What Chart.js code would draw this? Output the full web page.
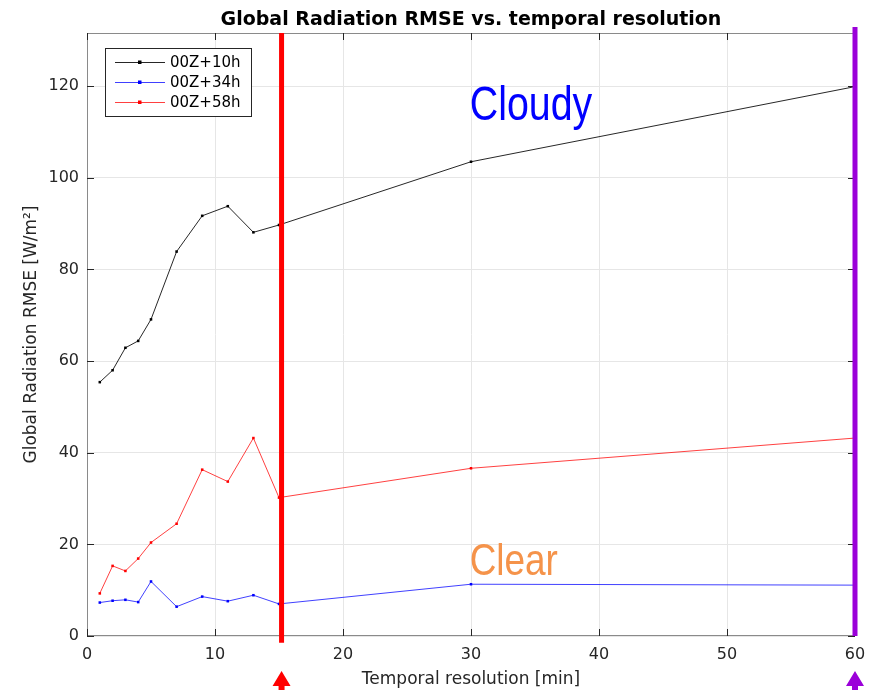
<!DOCTYPE html>
<html>
<head>
<meta charset="utf-8">
<script src="https://cdn.jsdelivr.net/npm/chart.js@4"></script>
<style>
  html, body { margin: 0; padding: 0; background: #fff; }
  #wrap { width: 877px; height: 690px; }
</style>
</head>
<body>
<div id="wrap"><canvas id="grafikRmse" width="877" height="690"></canvas></div>
<script>
const resolusi = [1, 2, 3, 4, 5, 7, 9, 11, 13, 15, 30, 60];
const rmse10h = [55.4, 58.0, 62.9, 64.4, 69.1, 83.9, 91.7, 93.8, 88.1, 89.7, 103.5, 119.9];
const rmse34h = [7.3, 7.7, 7.9, 7.4, 11.9, 6.4, 8.6, 7.6, 8.9, 7.0, 11.3, 11.1];
const rmse58h = [9.3, 15.3, 14.2, 16.9, 20.4, 24.5, 36.3, 33.7, 43.2, 30.2, 36.6, 43.2];
const seriesLabels = ['00Z+10h', '00Z+34h', '00Z+58h'];
const markerX = [15.2, 60];
const xTicks = [0, 10, 20, 30, 40, 50, 60];
const yTicks = [0, 20, 40, 60, 80, 100, 120];

const ctx = document.getElementById('grafikRmse').getContext('2d');

function toPoints(ys) {
    return resolusi.map((x, i) => ({ x: x, y: ys[i] }));
}

const warnaSeri = ['#000000', '#0000ff', '#ff0000'];
const seriData = [rmse10h, rmse34h, rmse58h];

const datasets = seriData.map((ys, i) => ({
    label: seriesLabels[i],
    data: toPoints(ys),
    borderColor: i === 0 ? 'rgba(0,0,0,0.85)' : (i === 1 ? 'rgba(0,0,255,0.75)' : 'rgba(255,0,0,0.75)'),
    backgroundColor: warnaSeri[i],
    borderWidth: 1,
    pointStyle: 'rect',
    pointRadius: 1.8,
    pointBorderWidth: 0,
    tension: 0,
    order: 2
}));

// vertical marker lines
datasets.push({
    data: [{ x: markerX[0], y: -1.5 }, { x: markerX[0], y: 131.6 }],
    borderColor: '#ff0000', borderWidth: 5, pointRadius: 0, order: 1, clip: false
});
datasets.push({
    data: [{ x: markerX[1], y: 0 }, { x: markerX[1], y: 132.9 }],
    borderColor: '#9b00d9', borderWidth: 5, pointRadius: 0, order: 1, clip: false
});

// box + inward ticks (under the data)
const kotak = {
    id: 'kotak',
    beforeDatasetsDraw(chart) {
        const c = chart.ctx;
        const a = chart.chartArea;
        const sx = chart.scales.x, sy = chart.scales.y;
        c.save();
        c.strokeStyle = '#8a8a8a';
        c.lineWidth = 1;
        c.strokeRect(a.left + 0.5, a.top + 0.5, a.right - a.left - 1, a.bottom - a.top - 1);
        c.strokeStyle = '#262626';
        c.beginPath();
        xTicks.forEach(v => {
            const px = Math.round(sx.getPixelForValue(v)) + 0.5;
            c.moveTo(px, a.bottom); c.lineTo(px, a.bottom - 7);
            c.moveTo(px, a.top); c.lineTo(px, a.top + 7);
        });
        yTicks.forEach(v => {
            const py = Math.round(sy.getPixelForValue(v)) + 0.5;
            c.moveTo(a.left, py); c.lineTo(a.left + 7, py);
            c.moveTo(a.right, py); c.lineTo(a.right - 7, py);
        });
        c.stroke();
        c.restore();
    }
};

const dekorasi = {
    id: 'dekorasi',
    afterDraw(chart) {
        const c = chart.ctx;
        const a = chart.chartArea;
        const sx = chart.scales.x, sy = chart.scales.y;
        c.save();

        // title
        c.fillStyle = '#000';
        c.font = 'bold 19px "DejaVu Sans"';
        c.textAlign = 'center';
        c.textBaseline = 'alphabetic';
        c.fillText('Global Radiation RMSE vs. temporal resolution', 471, 25);

        // annotations (narrow look by horizontal squeeze)
        c.textAlign = 'left';
        const teksSempit = (txt, size, col, vx, vy) => {
            c.save();
            c.translate(sx.getPixelForValue(vx), sy.getPixelForValue(vy));
            c.scale(0.82, 1);
            c.font = size + 'px "Liberation Sans"';
            c.fillStyle = col;
            c.fillText(txt, 0, 0);
            c.restore();
        };
        teksSempit('Cloudy', 48, '#0000ff', 29.9, 112.6);
        teksSempit('Clear', 45, '#f5934a', 29.9, 13.3);

        // arrows under axis
        const arrowY = 690;
        [['#ff0000', markerX[0]], ['#9b00d9', markerX[1]]].forEach(([col, v]) => {
            const px = sx.getPixelForValue(v);
            c.fillStyle = col;
            c.beginPath();
            c.moveTo(px, arrowY - 19);
            c.lineTo(px - 9, arrowY - 4);
            c.lineTo(px - 3, arrowY - 4);
            c.lineTo(px - 3, arrowY);
            c.lineTo(px + 3, arrowY);
            c.lineTo(px + 3, arrowY - 4);
            c.lineTo(px + 9, arrowY - 4);
            c.closePath();
            c.fill();
        });

        // legend
        const lx = 105, ly = 48, lw = 146, lh = 68;
        c.fillStyle = '#fff';
        c.fillRect(lx, ly, lw, lh);
        c.strokeStyle = '#262626';
        c.lineWidth = 1;
        c.strokeRect(lx + 0.5, ly + 0.5, lw, lh);
        c.font = '15px "DejaVu Sans"';
        c.textBaseline = 'middle';
        seriesLabels.forEach((lab, i) => {
            const yy = ly + 14 + i * 20;
            c.strokeStyle = datasets[i].borderColor;
            c.beginPath();
            c.moveTo(lx + 10, yy + 0.5); c.lineTo(lx + 60, yy + 0.5);
            c.stroke();
            c.fillStyle = warnaSeri[i];
            c.fillRect(lx + 33, yy - 1.5, 3.5, 3.5);
            c.fillStyle = '#000';
            c.fillText(lab, lx + 65, yy + 1);
        });
        c.restore();
    }
};

const config = {
    type: 'line',
    data: { datasets: datasets },
    options: {
        responsive: false,
        animation: false,
        layout: { padding: { top: 33, right: 22, left: 0, bottom: 0 } },
        scales: {
            x: {
                type: 'linear', min: 0, max: 60,
                afterFit: s => { s.height = 54; },
                afterBuildTicks: s => { s.ticks = xTicks.map(v => ({ value: v })); },
                grid: { color: '#e6e6e6', drawTicks: false },
                border: { display: false },
                ticks: { color: '#262626', font: { family: 'DejaVu Sans', size: 16 }, padding: 9, maxRotation: 0 },
                title: { display: true, text: 'Temporal resolution [min]', color: '#262626',
                         font: { family: 'DejaVu Sans', size: 17 }, padding: { top: 0, bottom: 0 } }
            },
            y: {
                type: 'linear', min: 0, max: 131.6,
                afterFit: s => { s.width = 87; },
                afterBuildTicks: s => { s.ticks = yTicks.map(v => ({ value: v })); },
                grid: { color: '#e6e6e6', drawTicks: false },
                border: { display: false },
                ticks: { color: '#262626', font: { family: 'DejaVu Sans', size: 16 }, padding: 8 },
                title: { display: true, text: 'Global Radiation RMSE [W/m\u00b2]', color: '#262626',
                         font: { family: 'DejaVu Sans', size: 17 }, padding: { top: 21, bottom: 8 } }
            }
        },
        plugins: {
            legend: { display: false },
            tooltip: { enabled: false }
        }
    },
    plugins: [kotak, dekorasi]
};

const grafikRmse = new Chart(ctx, config);
</script>
</body>
</html>
